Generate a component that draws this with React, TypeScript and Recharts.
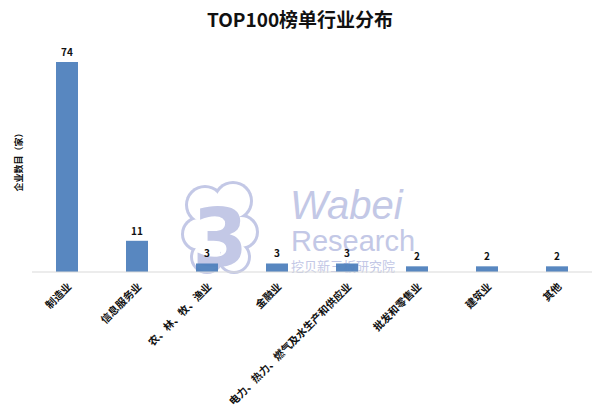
import { Bar, BarChart, LabelList, XAxis, YAxis } from "recharts";

const categories = [
  "制造业",
  "信息服务业",
  "农、林、牧、渔业",
  "金融业",
  "电力、热力、燃气及水生产和供应业",
  "批发和零售业",
  "建筑业",
  "其他",
];
const counts = [74, 11, 3, 3, 3, 2, 2, 2];

const data = categories.map((name, i) => ({ name, value: counts[i] }));

const FONT = "'Noto Sans CJK SC', 'Noto Sans', sans-serif";
const BLUE = "#4f81bd";
const MARK = "#c3c8e6";

const blobs = [
  [205, 205, 17],
  [233, 201, 17],
  [199, 234, 15],
  [241, 232, 15],
  [207, 257, 14],
  [234, 257, 14],
  [220, 230, 22],
];

function Watermark() {
  return (
    <svg width={600} height={407} style={{ position: "absolute", left: 0, top: 0 }}>
      <g fill={MARK}>
        {blobs.map(([x, y, r], i) => (
          <circle key={"o" + i} cx={x} cy={y} r={r + 3} />
        ))}
      </g>
      <g fill="#ffffff">
        {blobs.map(([x, y, r], i) => (
          <circle key={"i" + i} cx={x} cy={y} r={r} />
        ))}
      </g>
      <text
        x={220}
        y={266}
        textAnchor="middle"
        fontFamily="'DejaVu Sans', sans-serif"
        fontWeight="bold"
        fontSize={80}
        fill={MARK}
      >
        3
      </text>
      <text x={290} y={219} fontFamily="'Liberation Sans', sans-serif" fontStyle="italic" fontSize={40} fill={MARK}>
        Wabei
      </text>
      <text x={291} y={251} fontFamily="'Liberation Sans', sans-serif" fontSize={29} fill={MARK}>
        Research
      </text>
      <text x={291} y={271} fontFamily={FONT} fontSize={13} fill={MARK} textLength={104}>
        挖贝新三板研究院
      </text>
    </svg>
  );
}

export default function App() {
  return (
    <div style={{ position: "absolute", left: 0, top: 0, width: 600, height: 407, background: "#fff" }}>
      <Watermark />
      <div
        style={{
          position: "absolute",
          top: 5,
          width: 600,
          textAlign: "center",
          fontFamily: FONT,
          fontWeight: "bold",
          fontSize: 19,
          color: "#111",
        }}
      >
        TOP100榜单行业分布
      </div>
      <div
        style={{
          position: "absolute",
          left: 18,
          top: 160,
          transform: "translate(-50%, -50%) rotate(-90deg)",
          fontFamily: FONT,
          fontWeight: "bold",
          fontSize: 9,
          whiteSpace: "nowrap",
          color: "#111",
        }}
      >
        企业数目（家）
      </div>
      <div style={{ position: "absolute", left: 0, top: 0 }}>
        <BarChart
          width={600}
          height={407}
          data={data}
          margin={{ top: 45, right: 8, left: 32, bottom: 0 }}
          barCategoryGap={24}
        >
          <XAxis
            dataKey="name"
            interval={0}
            height={135}
            axisLine={{ stroke: "#d9d9d9" }}
            tickLine={false}
            angle={-45}
            textAnchor="end"
            tick={{ fontFamily: FONT, fontWeight: "bold", fontSize: 10.5, fill: "#111", dy: 2 }}
          />
          <YAxis hide domain={[0, 80]} />
          <Bar dataKey="value" fill={BLUE} fillOpacity={0.95} isAnimationActive={false}>
            <LabelList
              dataKey="value"
              position="top"
              offset={6}
              style={{ fontFamily: FONT, fontWeight: "bold", fontSize: 10, fill: "#111" }}
            />
          </Bar>
        </BarChart>
      </div>
    </div>
  );
}
